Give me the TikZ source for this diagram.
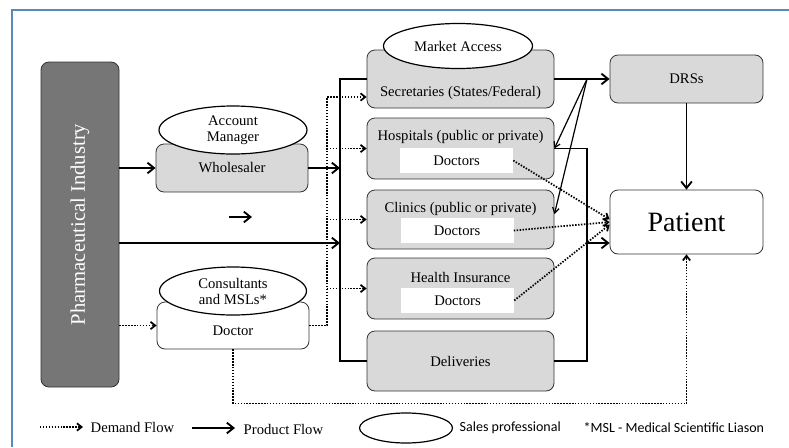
\documentclass[tikz,border=0pt]{standalone}
\usepackage{fontspec}
\setmainfont{Liberation Serif}
\newfontfamily\legfont{Carlito}
\usetikzlibrary{shapes.geometric, arrows.meta, calc}

\definecolor{framec}{RGB}{91,137,190}
\definecolor{boxg}{RGB}{217,217,217}
\definecolor{indg}{RGB}{118,118,118}

\begin{document}
\begin{tikzpicture}[x=0.75pt, y=-0.75pt,
  bx/.style={draw=black!80, rounded corners=6pt, fill=boxg, line width=0.6pt},
  wbx/.style={bx, fill=white},
  ec/.style={ellipse, draw, fill=white, line width=0.9pt, inner sep=0pt, align=center, font=\fontsize{11}{12}\selectfont},
  tx/.style={font=\fontsize{11}{13}\selectfont},
  dr/.style={fill=white, minimum width=84.75pt, minimum height=18.75pt, font=\fontsize{11}{13}\selectfont},
  ln/.style={line width=0.9pt},
  prod/.style={-{Straight Barb[length=5pt,width=8pt]}, line width=1.4pt},
  dem/.style={-{Straight Barb[length=3.5pt,width=5.5pt]}, line width=1.3pt, dash pattern=on 1.1pt off 1.1pt},
  fa/.style={-{Straight Barb[length=4pt,width=5pt]}, line width=0.9pt}]
            \useasboundingbox (0,0) rectangle (789,447);
            \draw[framec, line width=0.9pt] (12,447) -- (12,10) -- (789,10);

            \node[bx, fill=indg, minimum width=58.5pt, minimum height=243.75pt] (ind) at (80,224.5) {};
            \node[rotate=90, text=white, font=\fontsize{15.5}{17}\selectfont] (indt) at (ind) {Pharmaceutical Industry};

            \node[bx, tx, minimum width=114pt, minimum height=36pt] (whl) at (232,168) {Wholesaler};
            \node[ec, minimum width=111pt, minimum height=36pt] (acm) at (233,130) {Account\\Manager};
            \node[wbx, minimum width=114pt, minimum height=35.25pt] (doc) at (233,325.5) {};
            \node[tx] (doct) at (233,331) {Doctor};
            \node[ec, minimum width=110.25pt, minimum height=36pt] (cms) at (233,291) {Consultants\\and MSLs*};

            \node[bx, minimum width=140.25pt, minimum height=43.5pt] (sec) at (460.5,79) {};
            \node[tx] (sect) at (460.5,93) {Secretaries (States/Federal)};
            \node[ec, minimum width=111.75pt, minimum height=33.75pt] (mka) at (458,46) {Market Access};
            \node[bx, minimum width=140.25pt, minimum height=45.75pt] (hos) at (460.5,148.5) {};
            \node[tx] (host) at (460.5,137) {Hospitals (public or private)};
            \node[dr] (hdr) at (456.5,160.5) {Doctors};
            \node[bx, minimum width=140.25pt, minimum height=44.25pt] (cli) at (460.5,219.5) {};
            \node[tx] (clit) at (460.5,209) {Clinics (public or private)};
            \node[dr] (cdr) at (457,230.5) {Doctors};
            \node[bx, minimum width=140.25pt, minimum height=45.75pt] (his) at (460.5,288.5) {};
            \node[tx] (hist) at (460.5,277) {Health Insurance};
            \node[dr] (idr) at (457.5,300.5) {Doctors};
            \node[bx, tx, minimum width=140.25pt, minimum height=45pt] (del) at (460.5,361) {Deliveries};

            \node[bx, tx, minimum width=114.75pt, minimum height=36pt] (drs) at (686.5,79) {DRSs};
            \node[wbx, minimum width=114.75pt, minimum height=48pt, font=\fontsize{21}{24}\selectfont] (pat) at (686.5,222) {Patient};

            \coordinate (bar) at (340,243);
            \coordinate (dbus) at (327,97);
            \coordinate (fan) at (587,79);
            \coordinate (rbus) at (587,243);
            \coordinate (la) at (229,217);
            \coordinate (lb) at (252,217);

            \draw[ln] (sec.west) -| (bar) |- (del.west);
            \draw[prod] (ind.east |- whl) -- (whl.west);
            \draw[prod] (whl.east) -- (whl.east -| bar);
            \draw[prod] (ind.east |- bar) -- (bar);
            \draw[prod] (la) -- (lb);

            \draw[dem] (ind.east |- doc) -- (doc.west);
            \draw[dem] (doc.east) -| (dbus) -- (dbus -| sec.west);
            \draw[dem] (dbus |- hos) -- (hos.west);
            \draw[dem] (dbus |- cli) -- (cli.west);
            \draw[dem] (dbus |- his) -- (his.west);

            \draw[prod] (sec.east) -- (drs.west);
            \draw[fa] (fan) -- (hos.east);
            \draw[fa] (fan) -- ([yshift=4pt]cli.east);
            \draw[ln] (hos.east) -| (rbus) |- (del.east);
            \draw[prod] (rbus) -- (rbus -| pat.west);
            \draw[prod] (drs.south) -- (pat.north);

            \draw[dem] (hdr.east) -- ([yshift=2pt]pat.west);
            \draw[dem] (cdr.east) -- (pat.west);
            \draw[dem] (idr.east) -- ([yshift=-2pt]pat.west);
            \draw[dem] (doc.south) -- ++(0,54) -| (pat.south);

            \coordinate (l1) at (40,427);
            \coordinate (l2) at (83,427);
            \coordinate (l3) at (192,428);
            \coordinate (l4) at (235,428);
            \draw[dem] (l1) -- (l2);
            \node[tx, anchor=west] (ldf) at (86,427) {Demand Flow};
            \draw[prod] (l3) -- (l4);
            \node[tx, anchor=west] (lpf) at (239,429) {Product Flow};
            \node[ec, minimum width=69.75pt, minimum height=22.5pt] (lsp) at (406,428) {};
            \node[anchor=west, font=\legfont\fontsize{10.5}{12}\selectfont] (lst) at (455,428) {Sales professional};
            \node[anchor=west, font=\legfont\fontsize{10.5}{12}\selectfont] (lms) at (579,428) {*MSL - Medical Scientific Liason};
        \end{tikzpicture}
\end{document}
